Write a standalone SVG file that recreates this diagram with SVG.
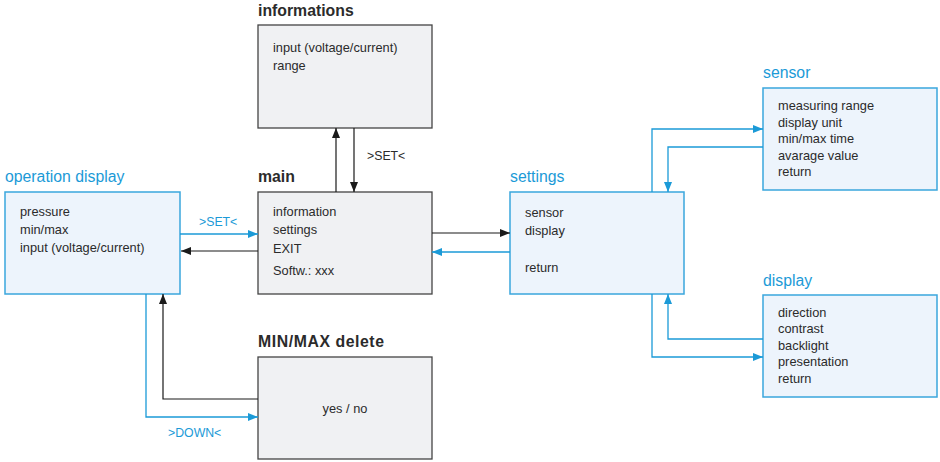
<svg xmlns="http://www.w3.org/2000/svg" width="940" height="462" viewBox="0 0 940 462">
<defs>
<marker id="ab" viewBox="0 0 10 8" refX="10" refY="4" markerWidth="10" markerHeight="8" markerUnits="userSpaceOnUse" orient="auto"><path d="M0,0 L10,4 L0,8 Z" fill="#1a1a1a"/></marker>
<marker id="au" viewBox="0 0 10 8" refX="10" refY="4" markerWidth="10" markerHeight="8" markerUnits="userSpaceOnUse" orient="auto"><path d="M0,0 L10,4 L0,8 Z" fill="#1b9ad7"/></marker>
<style>
.bb{fill:#edf4fc;stroke:#3aa6dd;stroke-width:1.5}
.gb{fill:#f0f1f3;stroke:#444;stroke-width:1.3}
.t{font-family:"Liberation Sans",Arial,sans-serif;font-size:12.8px;fill:#2b2b2b}
.bt{font-family:"Liberation Sans",Arial,sans-serif;font-size:15.8px;fill:#1b9ad7}
.kt{font-family:"Liberation Sans",Arial,sans-serif;font-size:15.8px;font-weight:bold;fill:#2b2b2b}
.lb{font-family:"Liberation Sans",Arial,sans-serif;font-size:12.3px;fill:#1b9ad7}
.lk{font-family:"Liberation Sans",Arial,sans-serif;font-size:12.3px;fill:#2b2b2b}
.ck{fill:none;stroke:#1a1a1a;stroke-width:1.2}
.cu{fill:none;stroke:#1b9ad7;stroke-width:1.3}
</style>
</defs>
<g id="operation-display">
<text class="bt" x="5" y="182">operation display</text>
<rect class="bb" x="5" y="192" width="175" height="102"/>
<text class="t" x="20" y="216">pressure</text>
<text class="t" x="20" y="234">min/max</text>
<text class="t" x="20" y="252">input (voltage/current)</text>
</g>
<g id="informations">
<text class="kt" x="258" y="16">informations</text>
<rect class="gb" x="258" y="25" width="174" height="103"/>
<text class="t" x="273" y="52">input (voltage/current)</text>
<text class="t" x="273" y="70">range</text>
</g>
<g id="main">
<text class="kt" x="258" y="182">main</text>
<rect class="gb" x="258" y="192" width="174" height="102"/>
<text class="t" x="273" y="216">information</text>
<text class="t" x="273" y="234">settings</text>
<text class="t" x="273" y="253">EXIT</text>
<text class="t" x="273" y="275">Softw.: xxx</text>
</g>
<g id="minmax-delete">
<text class="kt" x="258" y="347" textLength="126" lengthAdjust="spacing">MIN/MAX delete</text>
<rect class="gb" x="258" y="357" width="174" height="102"/>
<text class="t" x="345" y="413" text-anchor="middle">yes / no</text>
</g>
<g id="settings">
<text class="bt" x="510" y="182">settings</text>
<rect class="bb" x="510" y="192" width="174" height="102"/>
<text class="t" x="525" y="217">sensor</text>
<text class="t" x="525" y="235">display</text>
<text class="t" x="525" y="272">return</text>
</g>
<g id="sensor">
<text class="bt" x="763" y="78">sensor</text>
<rect class="bb" x="763" y="88" width="174" height="102"/>
<text class="t" x="778" y="110">measuring range</text>
<text class="t" x="778" y="127">display unit</text>
<text class="t" x="778" y="143">min/max time</text>
<text class="t" x="778" y="160">avarage value</text>
<text class="t" x="778" y="176">return</text>
</g>
<g id="display">
<text class="bt" x="763" y="286">display</text>
<rect class="bb" x="763" y="295" width="174" height="102"/>
<text class="t" x="778" y="317">direction</text>
<text class="t" x="778" y="333">contrast</text>
<text class="t" x="778" y="350">backlight</text>
<text class="t" x="778" y="366">presentation</text>
<text class="t" x="778" y="383">return</text>
</g>
<g id="connectors">
<path class="cu" d="M180,234 H258" marker-end="url(#au)"/>
<text class="lb" x="199" y="226">&gt;SET&lt;</text>
<path class="ck" d="M258,251 H181" marker-end="url(#ab)"/>
<path class="ck" d="M336,192 V128" marker-end="url(#ab)"/>
<path class="ck" d="M354,128 V192" marker-end="url(#ab)"/>
<text class="lk" x="367" y="160">&gt;SET&lt;</text>
<path class="ck" d="M432,233 H510" marker-end="url(#ab)"/>
<path class="cu" d="M510,252 H432" marker-end="url(#au)"/>
<path class="cu" d="M652,192 V129 H763" marker-end="url(#au)"/>
<path class="cu" d="M763,147 H668 V192" marker-end="url(#au)"/>
<path class="cu" d="M652,294 V357 H763" marker-end="url(#au)"/>
<path class="cu" d="M763,339 H668 V294" marker-end="url(#au)"/>
<path class="ck" d="M258,399 H163 V294" marker-end="url(#ab)"/>
<path class="cu" d="M146,294 V417 H258" marker-end="url(#au)"/>
<text class="lb" x="168" y="437">&gt;DOWN&lt;</text>
</g>
</svg>
